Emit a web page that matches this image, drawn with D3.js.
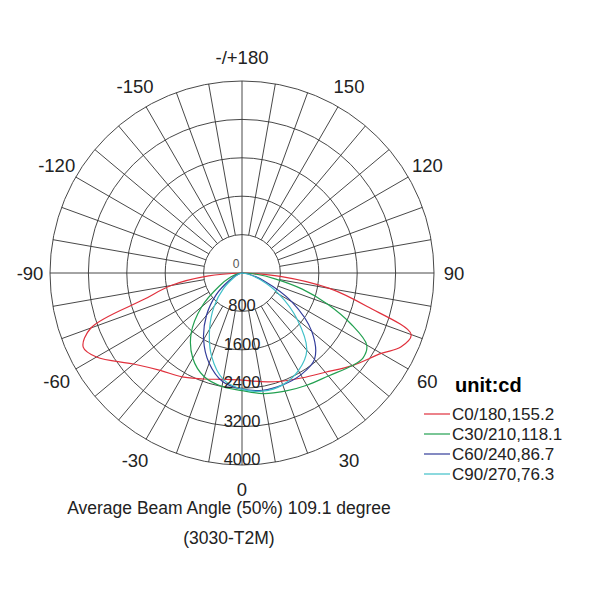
<!DOCTYPE html>
<html><head><meta charset="utf-8">
<script src="https://cdn.jsdelivr.net/npm/d3@7"></script>
<style>body{margin:0;background:#fff}text{font-family:"Liberation Sans",Arial,sans-serif}</style>
</head><body><svg id="chart" width="600" height="600"></svg>
<script>
// gamma angles (deg) and intensity (cd) per C-plane
const gammaRed = [-90,-85,-80,-75,-70,-65,-60,-50,-40,-30,-20,-10,0,10,20,30,40,50,60,65,70,75,80,85,90];
const c0 = [0,700,1500,2100,3350,3650,3500,2950,2650,2500,2350,2250,2230,2300,2400,2520,2700,3000,3350,3650,3750,2700,1850,800,0];
const gammaGreen = [-90,-80,-70,-60,-50,-40,-30,-20,-10,0,10,20,30,40,50,55,60,65,70,75,80,85,90];
const c30 = [0,80,250,550,1100,1650,2050,2300,2400,2450,2550,2620,2700,2800,3000,3080,3000,2500,1900,1300,700,300,0];
const gammaBlue = [-90,-70,-60,-50,-40,-30,-20,-10,0,10,20,30,40,50,60,70,80,90];
const c60 = [0,100,300,700,1150,1600,2000,2300,2420,2480,2480,2450,2350,1900,1200,500,150,0];
const c90 = [0,80,200,500,900,1350,1850,2250,2420,2500,2480,2350,2100,1500,900,400,120,0];
const ringTicks = [800,1600,2400,3200,4000];
const angleLabels = [0,30,60,90,120,150,180,-150,-120,-90,-60,-30];
const legendNames = ["C0/180,155.2","C30/210,118.1","C60/240,86.7","C90/270,76.3"];
const colors = ["#e0303c","#22a050","#323c9a","#40c0c8"];

const svg = d3.select("#chart");
const cx = 242, cy = 273, R = 192;
const r = d3.scaleLinear().domain([0,4000]).range([0,R]);
const g = svg.append("g").attr("transform", `translate(${cx},${cy})`);
const rad = d => d*Math.PI/180;

// rings
g.selectAll("circle.ring").data(ringTicks).join("circle")
  .attr("r", d => r(d)).attr("fill","none").attr("stroke","#333").attr("stroke-width",0.9);
// spokes
const spokes = d3.range(0,360,10);
g.selectAll("line.spoke").data(spokes).join("line")
  .attr("x1", d => (d%90===0?0:r(800))*Math.sin(rad(d)))
  .attr("y1", d => (d%90===0?0:r(800))*Math.cos(rad(d)))
  .attr("x2", d => R*Math.sin(rad(d))).attr("y2", d => R*Math.cos(rad(d)))
  .attr("stroke","#333").attr("stroke-width",0.9);

// angle labels
g.selectAll("text.ang").data(angleLabels).join("text")
  .attr("x", d => (R+22)*Math.sin(rad(d)) + (Math.abs(d)===90? (d>0?-2:2):0))
  .attr("y", d => (R+24)*Math.cos(rad(d)) + 7)
  .attr("text-anchor","middle").attr("font-size",18.5).attr("fill","#222")
  .text(d => d===180 ? "-/+180" : d);

// curves
const series = [[gammaRed,c0],[gammaGreen,c30],[gammaBlue,c60],[gammaBlue,c90]];
const line = d3.lineRadial().angle(d => Math.PI - rad(d[0])).radius(d => r(d[1])).curve(d3.curveCatmullRom);
series.forEach((s,i) => {
  g.append("path").datum(d3.zip(s[0],s[1])).attr("d", line)
    .attr("fill","none").attr("stroke",colors[i]).attr("stroke-width",1.2);
});

// ring labels
g.selectAll("text.rl").data(ringTicks).join("text")
  .attr("x",0).attr("y", d => r(d)).attr("text-anchor","middle")
  .attr("font-size",16.5).attr("fill","#222").text(d => d);
g.append("text").attr("x",-6).attr("y",-5).attr("text-anchor","middle")
  .attr("font-size",12).attr("font-family","DejaVu Serif").attr("fill","#555").text("0");

// legend
svg.append("text").attr("x",455).attr("y",392).attr("font-size",20).attr("font-weight","bold").text("unit:cd");
legendNames.forEach((n,i) => {
  const y = 414 + i*20;
  svg.append("line").attr("x1",424).attr("x2",450).attr("y1",y).attr("y2",y).attr("stroke",colors[i]).attr("stroke-width",1.2);
  svg.append("text").attr("x",452).attr("y",y+6).attr("font-size",17).attr("fill","#222").text(n);
});

// caption
svg.append("text").attr("x",229).attr("y",514).attr("text-anchor","middle").attr("font-size",17.5).attr("fill","#222")
  .text("Average Beam Angle (50%) 109.1 degree");
svg.append("text").attr("x",229).attr("y",544).attr("text-anchor","middle").attr("font-size",17.5).attr("fill","#222")
  .text("(3030-T2M)");
</script></body></html>
